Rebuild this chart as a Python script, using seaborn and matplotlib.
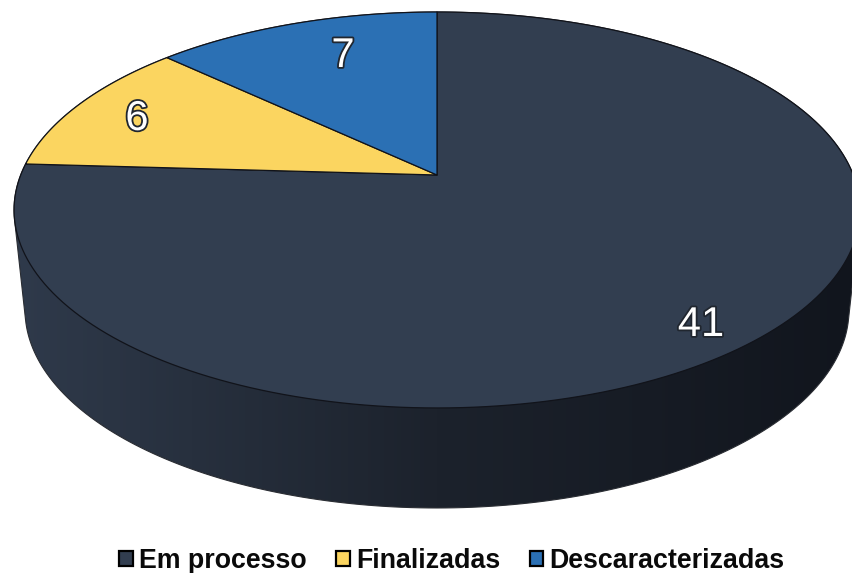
import numpy as np
import matplotlib
matplotlib.use('Agg')
import matplotlib.pyplot as plt
import matplotlib.patheffects as pe
from matplotlib.patches import Polygon
import seaborn as sns

# data
categories = ['Em processo', 'Finalizadas', 'Descaracterizadas']
values = [41, 6, 7]
colors = sns.color_palette(['#323e50', '#fbd560', '#2b70b4'])

sns.set_theme(style='white')
plt.rcParams['font.family'] = ['Liberation Sans', 'DejaVu Sans']

# perspective of the top disc, in pixels of the picture
cx, cy = 437, 175
a, b, k = 416.3, 191.8, 0.1767


def project(theta_deg):
    t = np.radians(theta_deg)
    u, v = np.cos(t), np.sin(t)
    w = 1 + k * v
    return cx + a * u / w, cy - b * v / w


def hull(points):
    # monotone chain, the side wall is the hull of the two rims
    pts = sorted(map(tuple, points))

    def half(seq):
        out = []
        for p in seq:
            while len(out) > 1 and np.cross(np.subtract(out[-1], out[-2]), np.subtract(p, out[-2])) <= 0:
                out.pop()
            out.append(p)
        return out[:-1]
    return np.array(half(pts) + half(pts[::-1]))


fig, ax = plt.subplots(figsize=(8.52, 5.73), dpi=100)
fig.subplots_adjust(0, 0, 1, 1)

wedges, _ = ax.pie(values, startangle=90, counterclock=False, colors=colors)
angles = [(w.theta1, w.theta2) for w in wedges]
for w in wedges:
    w.remove()

ax.set_aspect('auto')
ax.set_xlim(0, 852)
ax.set_ylim(573, 0)

# rims
ring = np.linspace(0, 360, 361)
rx, ry = project(ring)
top_cy = (ry.min() + ry.max()) / 2
low_x = cx + (rx - cx) * 0.974
low_y = (ry - top_cy) * 1.0 + 310
wall = hull(np.vstack([np.c_[rx, ry], np.c_[low_x, low_y]]))

# side wall with the horizontal shading
shade = sns.blend_palette(['#2f3a4b', '#1c222c', '#11151d'], as_cmap=True)
im = ax.imshow(np.linspace(0, 1, 256)[None, :], cmap=shade, aspect='auto',
               extent=(14, 860, 520, 100), zorder=1)
outline = Polygon(wall, closed=True, fc='none', ec='#2a2d33', lw=0.8, zorder=2)
ax.add_patch(outline)
im.set_clip_path(outline)
ax.set_xlim(0, 852)
ax.set_ylim(573, 0)

# top face, one polygon for each slice
handles = []
for (t1, t2), col, name in zip(angles, colors, categories):
    px, py = project(np.linspace(t1, t2, 200))
    poly = ax.fill(np.r_[cx, px], np.r_[cy, py], color=col, ec='#11131a', lw=0.9,
                   zorder=3, label=name, joinstyle='round')[0]
    handles.append(poly)

# value labels
stroke = [pe.withStroke(linewidth=2.6, foreground='#20262f')]
label_pos = [(701, 325), (137, 119), (343, 56)]
for val, (lx, ly) in zip(values, label_pos):
    ax.text(lx, ly, str(val), color='white', fontsize=30, ha='center', va='center',
            path_effects=stroke, zorder=5)

leg = ax.legend(handles=handles, labels=categories, ncol=3, loc='center', bbox_to_anchor=(452, 561),
                bbox_transform=ax.transData, frameon=False, handlelength=0.5, handleheight=0.5,
                handletextpad=0.24, columnspacing=1.1, borderpad=0, borderaxespad=0,
                prop={'family': 'Liberation Sans', 'weight': 'bold', 'size': 19.3})
for h in leg.legend_handles:
    h.set_edgecolor('black')
    h.set_linewidth(1.6)
for t in leg.get_texts():
    t.set_color('#0a0a0a')

ax.set_axis_off()
fig.savefig('out.png', dpi=100)
